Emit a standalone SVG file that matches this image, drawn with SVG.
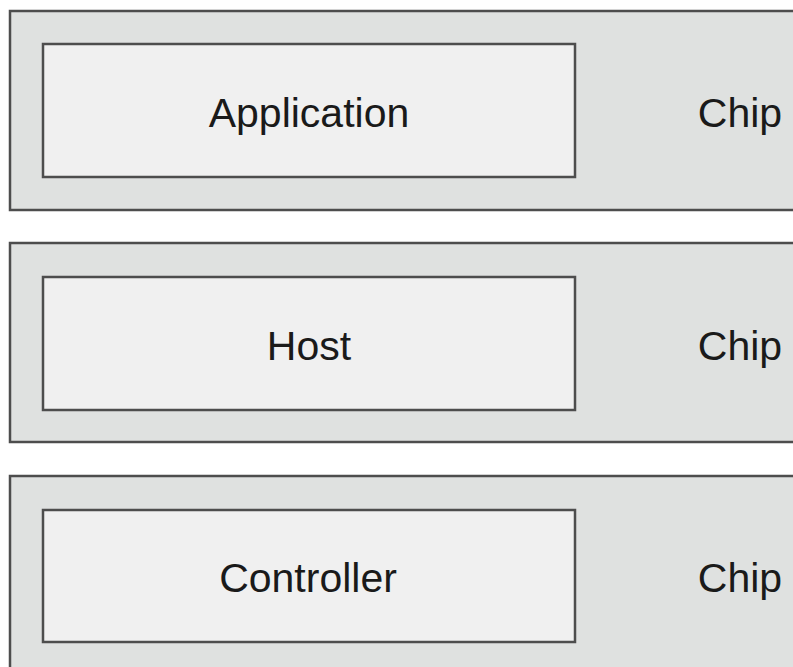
<svg xmlns="http://www.w3.org/2000/svg" width="793" height="667" viewBox="0 0 793 667">
<style>
.chip{fill:#dfe1e0;stroke:#4d4d4d;stroke-width:2.5}
.box{fill:#f0f0f0;stroke:#4d4d4d;stroke-width:2.5}
text{font-family:"Liberation Sans",Arial,sans-serif;font-size:41px;fill:#1a1a1a;text-anchor:middle}
</style>
<rect width="793" height="667" fill="#fff"/>
<g id="chip-application">
<rect class="chip" x="10" y="11" width="800" height="199"/>
<rect class="box" x="43" y="44" width="532" height="133"/>
<text x="309" y="127">Application</text>
<text x="740" y="127">Chip</text>
</g>
<g id="chip-host">
<rect class="chip" x="10" y="243" width="800" height="199"/>
<rect class="box" x="43" y="277" width="532" height="133"/>
<text x="309" y="360">Host</text>
<text x="740" y="360">Chip</text>
</g>
<g id="chip-controller">
<rect class="chip" x="10" y="476" width="800" height="220"/>
<rect class="box" x="43" y="510" width="532" height="132"/>
<text x="308" y="592">Controller</text>
<text x="740" y="592">Chip</text>
</g>
<g id="connectors"/>
</svg>
